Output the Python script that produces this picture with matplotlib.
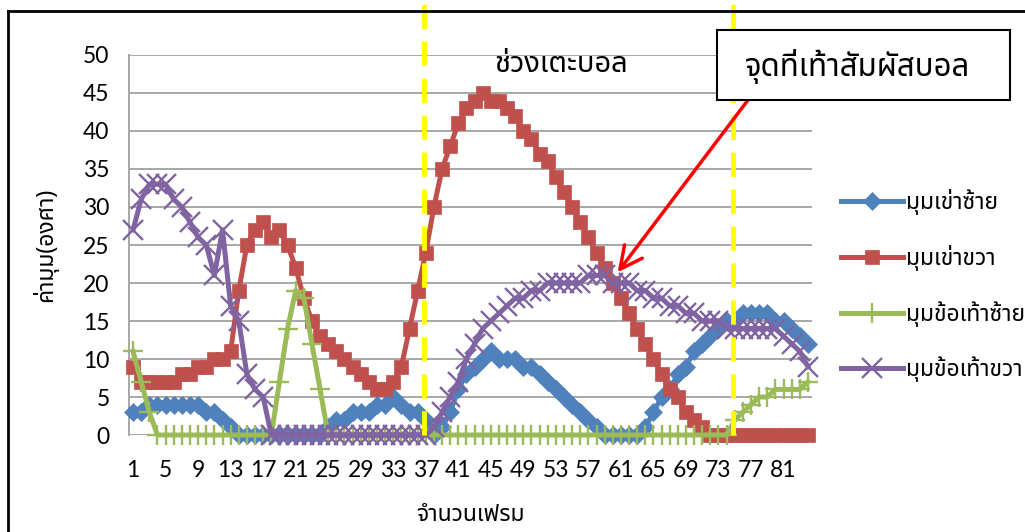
import numpy as np
import matplotlib
matplotlib.use('Agg')
import matplotlib.pyplot as plt
from matplotlib import font_manager
from matplotlib.ft2font import FT2Font
from matplotlib.lines import Line2D
from matplotlib.patches import Rectangle

frames = list(range(1, 85))

knee_left = [3, 3, 4, 4, 4, 4, 4, 4, 4, 3, 3, 2, 1, 0, 0, 0, 0, 0, 0, 0,
             0, 0, 0, 0, 1, 2, 2, 3, 3, 3, 4, 4, 5, 4, 3, 3, 2, 0, 1, 3,
             6, 8, 9, 10, 11, 10, 10, 10, 9, 9, 8, 7, 6, 5, 4, 3, 2, 1, 0, 0,
             0, 0, 0, 1, 3, 5, 6, 8, 9, 11, 12, 13, 14, 15, 15, 16, 16, 16, 16, 15,
             15, 14, 13, 12]
knee_right = [9, 7, 7, 7, 7, 7, 8, 8, 9, 9, 10, 10, 11, 19, 25, 27, 28, 26, 27, 25,
              22, 18, 15, 13, 12, 11, 10, 9, 8, 7, 6, 6, 7, 9, 14, 19, 24, 30, 35, 38,
              41, 43, 44, 45, 44, 44, 43, 42, 40, 39, 37, 36, 34, 32, 30, 28, 26, 24, 22, 20,
              18, 16, 14, 12, 10, 8, 6, 5, 3, 2, 1, 0, 0, 0, 0, 0, 0, 0, 0, 0,
              0, 0, 0, 0]
ankle_left = [11, 7, 3, 0, 0, 0, 0, 0, 0, 0, 0, 0, 0, 0, 0, 0, 0, 0, 7, 14,
              19, 18, 12, 6, 0, 0, 0, 0, 0, 0, 0, 0, 0, 0, 0, 0, 0, 0, 0, 0,
              0, 0, 0, 0, 0, 0, 0, 0, 0, 0, 0, 0, 0, 0, 0, 0, 0, 0, 0, 0,
              0, 0, 0, 0, 0, 0, 0, 0, 0, 0, 0, 0, 0, 0, 2, 3, 4, 5, 5, 6,
              6, 6, 6, 7]
ankle_right = [27, 31, 33, 33, 33, 31, 30, 28, 26, 25, 21, 27, 17, 15, 8, 6, 5, 0, 0, 0,
               0, 0, 0, 0, 0, 0, 0, 0, 0, 0, 0, 0, 0, 0, 0, 0, 0, 1, 3, 5,
               7, 10, 12, 14, 15, 16, 17, 18, 18, 19, 19, 20, 20, 20, 20, 20, 21, 21, 21, 20,
               20, 20, 19, 19, 18, 18, 17, 17, 16, 16, 15, 15, 15, 14, 14, 14, 14, 14, 14, 14,
               13, 12, 11, 9]

series_names = ['มุมเข่าซ้าย', 'มุมเข่าขวา', 'มุมข้อเท้าซ้าย', 'มุมข้อเท้าขวา']
x_ticks = list(range(1, 85, 4))
y_ticks = list(range(0, 51, 5))
kick_start, kick_end = 36.8, 74.8
contact_frame, contact_angle = 60.6, 21.4


def find_thai_family():
    preferred = ['Noto Sans Thai', 'Tahoma', 'Loma', 'Garuda', 'Sarabun', 'Norasi', 'Kinnari']
    found = []
    for f in font_manager.fontManager.ttflist:
        try:
            if 0x0E01 in FT2Font(f.fname).get_charmap():
                found.append(f.name)
        except Exception:
            continue
    for name in preferred:
        if name in found:
            return name
    return found[0] if found else 'DejaVu Sans'


thai = find_thai_family()
plt.rcParams['font.family'] = ['Lato', thai, 'DejaVu Sans']
thai_fam = [thai, 'DejaVu Sans']

W, H = 1025, 532
fig = plt.figure(figsize=(W / 100, H / 100), dpi=100)
ax = fig.add_axes([129 / W, 97 / H, 683 / W, 380 / H])

colors = ['#4F81BD', '#C0504D', '#9BBB59', '#8064A2']
markers = ['D', 's', '+', 'x']
msizes = [9, 10.5, 14, 14]
for vals, c, m, ms, name in zip([knee_left, knee_right, ankle_left, ankle_right],
                                colors, markers, msizes, series_names):
    ax.plot(frames, vals, color=c, lw=3.6, marker=m, markersize=ms,
            markeredgewidth=1.7 if m in '+x' else 0.5, markeredgecolor=c,
            markerfacecolor=c, label=name, clip_on=False, zorder=3)

ax.set_xlim(0.5, 84.5)
ax.set_ylim(0, 50)
ax.set_xticks(x_ticks)
ax.set_yticks(y_ticks)
ax.tick_params(axis='both', labelsize=16.5, length=0, colors='black')
ax.tick_params(axis='x', pad=18)
ax.tick_params(axis='y', pad=14)
ax.grid(axis='y', color='#A0A0A0', lw=1.3, zorder=0)
for s in ['top', 'right', 'bottom']:
    ax.spines[s].set_visible(False)
ax.spines['left'].set_color('#A0A0A0')
ax.spines['left'].set_linewidth(1.3)
ax.set_axisbelow(True)

ax.set_xlabel('จำนวนเฟรม', family=thai_fam, fontsize=16.5, labelpad=16)
ax.set_ylabel('ค่ามุม(องศา)', family=thai_fam, fontsize=16.5, labelpad=18)

# kick window markers, running up past the plot area
for xv in (kick_start, kick_end):
    ax.plot([xv, xv], [0, 57.3], color='#FFFF00', lw=3.5, ls=(0, (5, 2.6)),
            clip_on=False, zorder=4)

fig.text(561 / W, 1 - 64 / H, 'ช่วงเตะบอล', family=thai_fam, fontsize=21,
         ha='center', va='center')

# callout box with arrow to the contact frame
fig.patches.append(Rectangle((717 / W, 1 - 100 / H), 293 / W, 70 / H,
                             transform=fig.transFigure, fc='white', ec='black',
                             lw=1.5, zorder=5))
fig.text(858 / W, 1 - 66 / H, 'จุดที่เท้าสัมผัสบอล', family=thai_fam, fontsize=22.5,
         ha='center', va='center', zorder=6)
ax.annotate('', xy=(contact_frame, contact_angle), xycoords='data',
            xytext=(748, H - 100), textcoords='figure pixels',
            arrowprops=dict(arrowstyle='->,head_length=0.8,head_width=0.4',
                            color='#FF0000', lw=2.5, mutation_scale=20,
                            shrinkA=0, shrinkB=0), zorder=6)

leg = ax.legend(loc='upper left', bbox_to_anchor=(830 / W, 1 - 178 / H),
                bbox_transform=fig.transFigure, frameon=False,
                prop={'family': thai_fam, 'size': 16.5}, handlelength=2.7,
                handletextpad=0.1, labelspacing=1.3, borderpad=0)

# outer frame lines
fig.add_artist(Line2D([8 / W, 8 / W], [0, 1 - 11 / H], color='black', lw=2,
                      transform=fig.transFigure))
fig.add_artist(Line2D([8 / W, 1], [1 - 11 / H, 1 - 11 / H], color='black', lw=2,
                      transform=fig.transFigure))

fig.savefig('out.png', dpi=100)
